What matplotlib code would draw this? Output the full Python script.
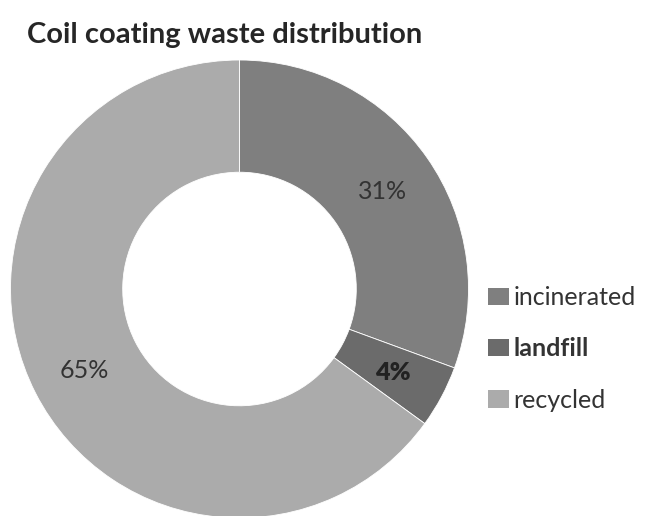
import matplotlib
matplotlib.use("Agg")
import matplotlib.pyplot as plt
from matplotlib.patches import Patch

categories = ["incinerated", "landfill", "recycled"]
values = [30.6, 4.4, 65.0]
pct_labels = ["31%", "4%", "65%"]
colors = ["#7f7f7f", "#6b6b6b", "#ababab"]
title = "Coil coating waste distribution"

plt.rcParams['font.family'] = ['Lato', 'DejaVu Sans']

fig = plt.figure(figsize=(6.49, 5.16), dpi=100)
ax = fig.add_axes([0, 0, 1, 1])

R = 229
wedges, texts, autotexts = ax.pie(
    values, colors=colors, startangle=90, counterclock=False,
    center=(239.5, 227), radius=R, frame=True,
    wedgeprops=dict(width=R * 0.49, edgecolor='white', linewidth=0.6),
    autopct=lambda p: '', pctdistance=0.76)
ax.set_xlim(0, 649)
ax.set_ylim(0, 516)
ax.set_aspect('equal')
ax.axis('off')

for i, (t, lab) in enumerate(zip(autotexts, pct_labels)):
    t.set_text(lab)
    t.set_fontsize(18)
    t.set_color('#333333')
    t.set_verticalalignment('center_baseline')
    if categories[i] == 'landfill':
        t.set_weight('heavy')
        t.set_color('#222222')

fig.text(27 / 649, 1 - 43 / 516, title, fontsize=21, fontweight='bold',
         color='#262626', ha='left', va='baseline')

handles = [Patch(facecolor=c, edgecolor='none') for c in colors]
leg = ax.legend(handles, categories, loc='center left',
                bbox_to_anchor=(488 / 649, 1 - 349 / 516), frameon=False,
                fontsize=18, handlelength=0.84, handleheight=0.68,
                handletextpad=0.18, labelspacing=1.13, borderpad=0,
                borderaxespad=0)
for t in leg.get_texts():
    t.set_color('#333333')
    if t.get_text() == 'landfill':
        t.set_fontweight('bold')

fig.savefig("out.png", dpi=100, facecolor='white')
